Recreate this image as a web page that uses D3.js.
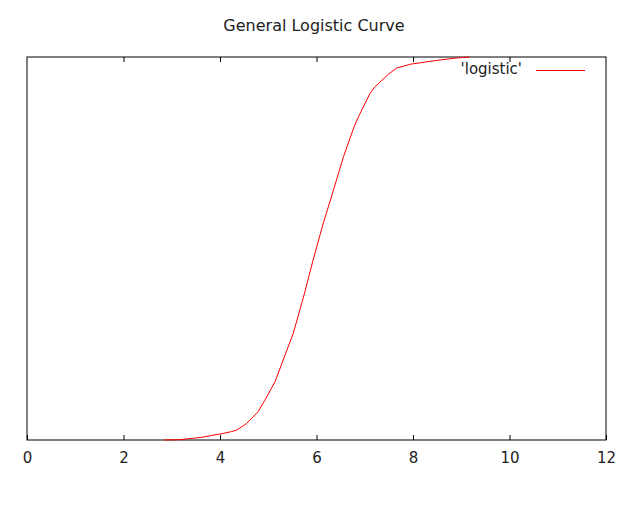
<!DOCTYPE html>
<html>
<head>
<meta charset="utf-8">
<script src="https://cdn.jsdelivr.net/npm/d3@7"></script>
<style>
  body { margin: 0; background: #fff; }
  text { font-family: "DejaVu Sans", sans-serif; fill: #222; }
</style>
</head>
<body>
<div id="chart"></div>
<script>
// values
const xValues = [2.84, 3.17, 3.40, 3.62, 3.83, 4.06, 4.24, 4.35, 4.55, 4.79, 4.93, 5.14, 5.31, 5.52, 5.73, 5.93,
                 6.14, 6.29, 6.56, 6.78, 6.87, 7.11, 7.21, 7.49, 7.66, 7.94, 8.21, 8.49, 8.87, 9.17]
const yValues = [0.000, 0.001, 0.004, 0.007, 0.012, 0.017, 0.022, 0.026, 0.043, 0.074, 0.104, 0.152, 0.209, 0.279, 0.373, 0.470,
                 0.566, 0.627, 0.740, 0.818, 0.844, 0.905, 0.922, 0.955, 0.971, 0.981, 0.986, 0.991, 0.997, 1.000]
const xTicks = [0, 2, 4, 6, 8, 10, 12]
const seriesName = "'logistic'"
const chartTitle = "General Logistic Curve"

const width = 635, height = 516
const margins = { top: 57, right: 29, bottom: 76, left: 27 }

const svg = d3.select('#chart').append('svg')
    .attr('width', width)
    .attr('height', height)

const xScale = d3.scaleLinear()
    .domain([0, 12])
    .range([margins.left, width - margins.right])

const yScale = d3.scaleLinear()
    .domain([0, 1])
    .range([height - margins.bottom, margins.top])

const data = xValues.map((x, i) => ({ x: x, y: yValues[i] }))

// title
svg.append('text')
    .attr('x', 314)
    .attr('y', 31)
    .attr('text-anchor', 'middle')
    .style('font-size', '16px')
    .text(chartTitle)

// bottom axis with labels
svg.append('g')
    .attr('transform', 'translate(0,' + (height - margins.bottom) + ')')
    .call(d3.axisBottom(xScale).tickValues(xTicks).tickSizeInner(-5).tickSizeOuter(0).tickPadding(12))
    .call(g => g.select('.domain').remove())
    .call(g => g.selectAll('text').style('font-size', '15px').style('font-family', '"DejaVu Sans", sans-serif'))

// mirrored ticks on top
svg.append('g')
    .attr('transform', 'translate(0,' + margins.top + ')')
    .call(d3.axisTop(xScale).tickValues(xTicks.slice(1, -1)).tickSizeInner(-5).tickSizeOuter(0).tickFormat(''))
    .call(g => g.select('.domain').remove())

svg.selectAll('.tick line').attr('stroke', '#000')

// border
svg.append('rect')
    .attr('x', xScale(0))
    .attr('y', yScale(1))
    .attr('width', xScale(12) - xScale(0))
    .attr('height', yScale(0) - yScale(1))
    .attr('fill', 'none')
    .attr('stroke', '#000')
    .attr('stroke-width', 1)

// the curve
const lineFun = d3.line()
    .x(d => xScale(d.x))
    .y(d => yScale(d.y))

svg.append('path')
    .datum(data)
    .attr('d', lineFun)
    .attr('fill', 'none')
    .attr('stroke', '#ff0000')
    .attr('stroke-width', 1)

// legend
const legend = svg.append('g')
legend.append('text')
    .attr('x', 522)
    .attr('y', 74)
    .attr('text-anchor', 'end')
    .style('font-size', '15px')
    .text(seriesName)
legend.append('line')
    .attr('x1', 536).attr('x2', 585)
    .attr('y1', 70.5).attr('y2', 70.5)
    .attr('stroke', '#ff0000')
    .attr('stroke-width', 1)
</script>
</body>
</html>
